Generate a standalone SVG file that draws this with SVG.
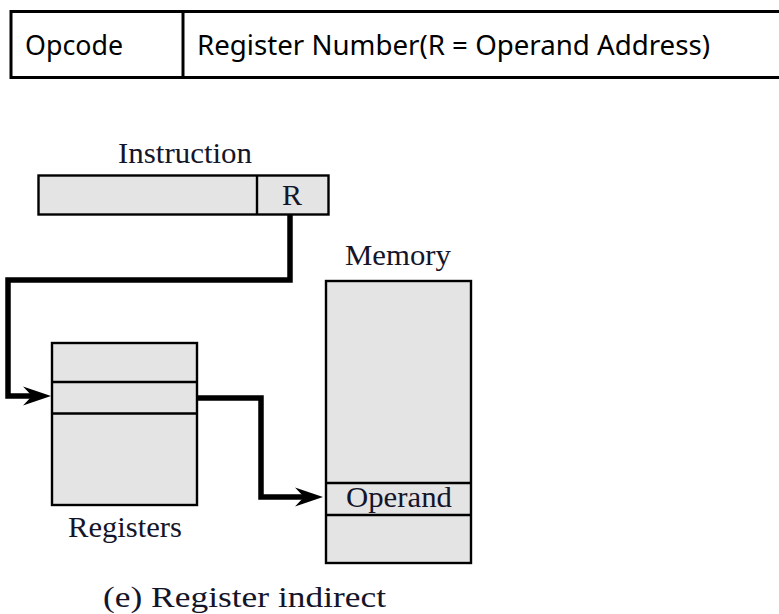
<svg xmlns="http://www.w3.org/2000/svg" width="779" height="614" viewBox="0 0 779 614">
  <style>
    .frame { fill: none; stroke: #000; stroke-width: 3; }
    .box { fill: #e4e4e4; stroke: #000; stroke-width: 2.4; }
    .cell { stroke: #000; stroke-width: 2.4; }
    .sans { font-family: "Noto Sans", "Open Sans", sans-serif; font-size: 28px; fill: #000; }
    .serif { font-family: "Liberation Serif", "Times New Roman", serif; font-size: 30px; fill: #15152a; }
    .wire { fill: none; stroke: #000; stroke-width: 5.5; stroke-linejoin: miter; }
  </style>
  <defs>
    <marker id="arrow" markerUnits="userSpaceOnUse" markerWidth="32" markerHeight="22" viewBox="-29 -11 32 22" refX="-12" refY="0" orient="auto">
      <path d="M0,0 L-28,-9.5 L-19,0 L-28,9.5 Z" fill="#000"/>
    </marker>
  </defs>

  <rect width="779" height="614" fill="#fff"/>

  <!-- instruction format table -->
  <g id="format-table">
    <rect class="frame" x="11" y="11.5" width="790" height="66"/>
    <line class="frame" x1="183" y1="11.5" x2="183" y2="77.5"/>
    <text class="sans" x="25" y="55" textLength="98" lengthAdjust="spacingAndGlyphs">Opcode</text>
    <text class="sans" x="197" y="55" textLength="513" lengthAdjust="spacingAndGlyphs">Register Number(R = Operand Address)</text>
  </g>

  <!-- instruction word -->
  <g id="instruction">
    <text class="serif" x="118" y="163" textLength="134" lengthAdjust="spacingAndGlyphs">Instruction</text>
    <rect class="box" x="38.5" y="175.5" width="290" height="39"/>
    <line class="cell" x1="257" y1="175.5" x2="257" y2="214.5"/>
    <text class="serif" x="292" y="205" text-anchor="middle">R</text>
  </g>

  <!-- register file -->
  <g id="registers">
    <rect class="box" x="52" y="343" width="145" height="162"/>
    <line class="cell" x1="52" y1="382" x2="197" y2="382"/>
    <line class="cell" x1="52" y1="413.5" x2="197" y2="413.5"/>
    <text class="serif" x="68" y="537" textLength="114" lengthAdjust="spacingAndGlyphs">Registers</text>
  </g>

  <!-- main memory -->
  <g id="memory">
    <text class="serif" x="345" y="265" textLength="106" lengthAdjust="spacingAndGlyphs">Memory</text>
    <rect class="box" x="326" y="281" width="145" height="282"/>
    <line class="cell" x1="326" y1="483" x2="471" y2="483"/>
    <line class="cell" x1="326" y1="515" x2="471" y2="515"/>
    <text class="serif" x="346" y="507" textLength="106" lengthAdjust="spacingAndGlyphs">Operand</text>
  </g>

  <!-- connectors -->
  <g id="connectors">
    <polyline class="wire" points="290,215 290,280 8,280 8,396 39,396" marker-end="url(#arrow)"/>
    <polyline class="wire" points="197,398 261,398 261,497 311,497" marker-end="url(#arrow)"/>
  </g>

  <!-- caption -->
  <g id="caption">
    <text class="serif" x="103" y="607" font-size="33" textLength="283" lengthAdjust="spacingAndGlyphs">(e) Register indirect</text>
  </g>
</svg>
